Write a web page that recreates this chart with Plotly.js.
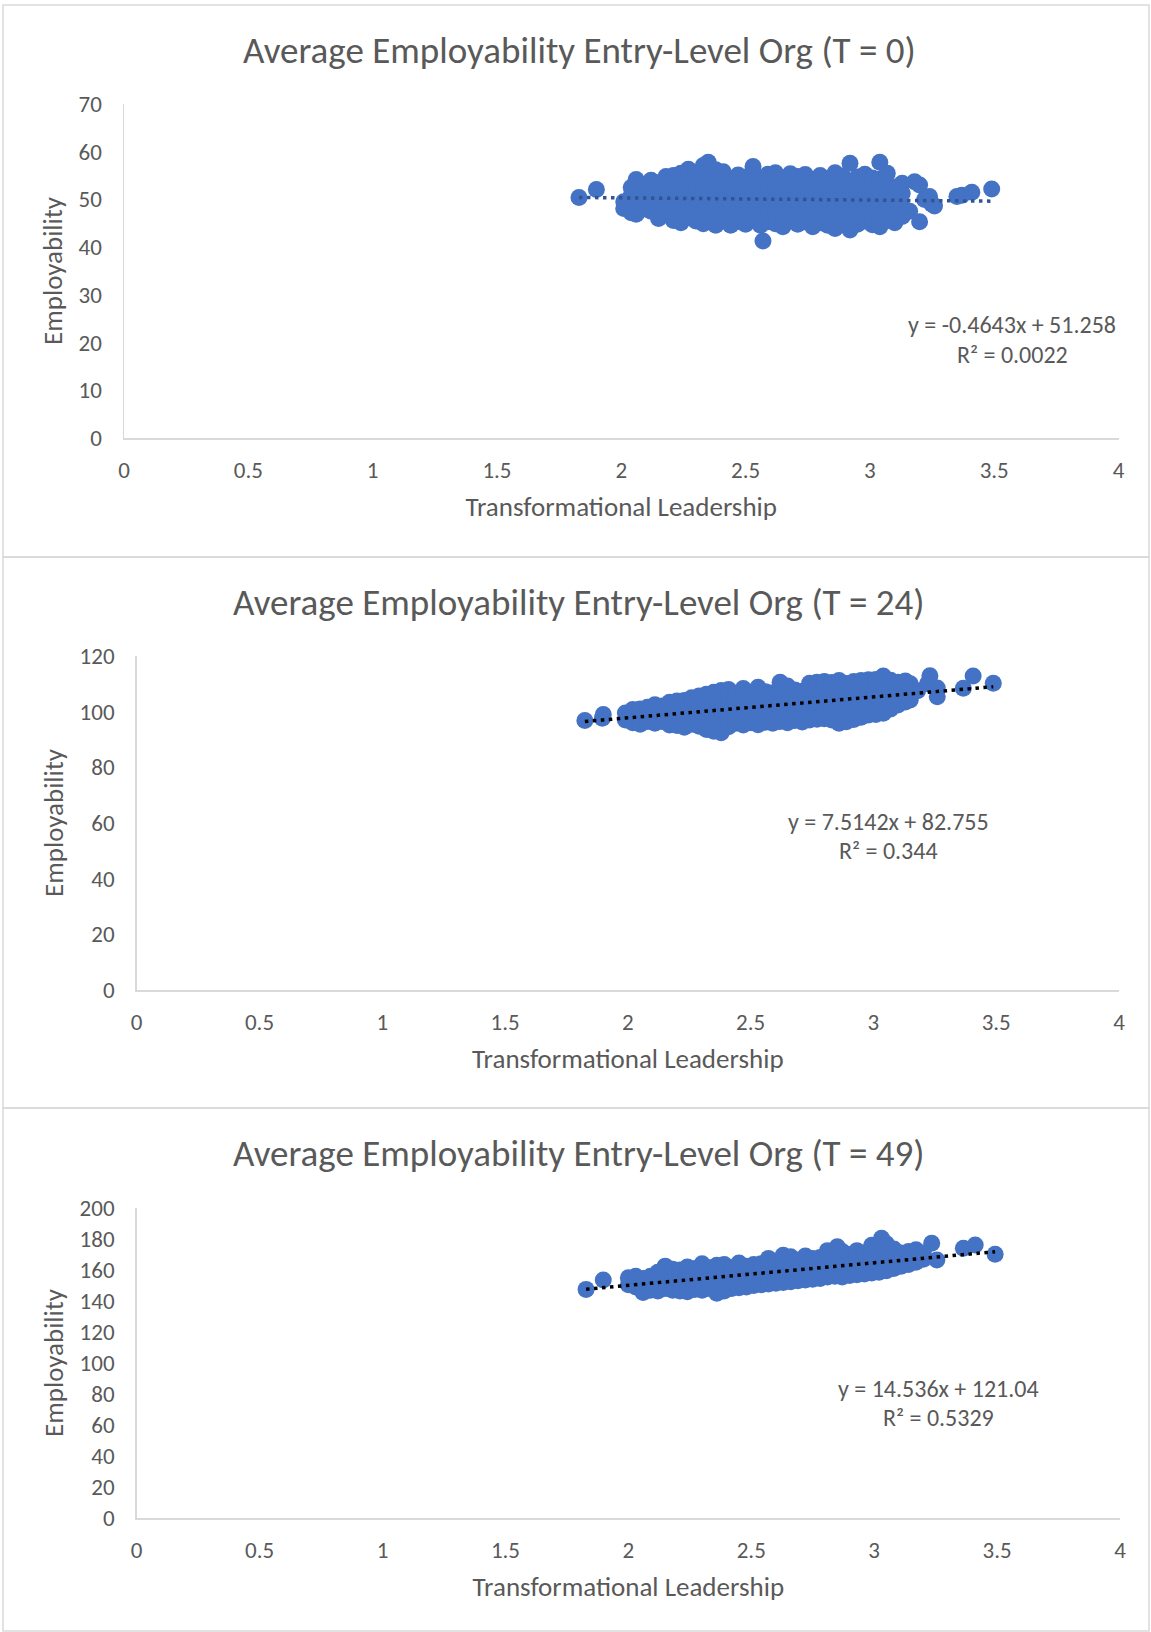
<!DOCTYPE html>
<html>
<head>
<meta charset="utf-8">
<script src="https://cdn.plot.ly/plotly-3.0.1.min.js"></script>
<style>html,body{margin:0;padding:0;background:#fff;}#chart{width:1151px;height:1632px;}</style>
</head>
<body>
<div id="chart"></div>
<script>
// ---------------- DATA ----------------
const chartTitles = [
  "Average Employability Entry-Level Org (T = 0)",
  "Average Employability Entry-Level Org (T = 24)",
  "Average Employability Entry-Level Org (T = 49)"
];
const xAxisTitle = "Transformational Leadership";
const yAxisTitle = "Employability";
const yRanges = [[0, 70], [0, 120], [0, 200]];
const yTickSteps = [10, 20, 20];
const slopes = [-0.4643, 7.5142, 14.536];
const intercepts = [51.258, 82.755, 121.04];
const equationTexts = ["y = -0.4643x + 51.258", "y = 7.5142x + 82.755", "y = 14.536x + 121.04"];
const r2Texts = ["R² = 0.0022", "R² = 0.344", "R² = 0.5329"];

// T = 0 : columns of [x, [y...]]
const colsT0 = [
  [1.83,[50.4]],[1.90,[52.1]],
  [2.01,[48.1,49.5]],[2.04,[47.2,50.8,52.5]],[2.06,[46.9,49.3,51.9,54.2]],[2.09,[48.0,50.5,53.1]],
  [2.12,[47.5,49.8,52.3,54.0]],[2.15,[46.0,48.6,51.2,53.5]],[2.18,[46.8,49.4,52.0,54.8]],
  [2.21,[45.6,48.2,50.7,53.3,55.0]],[2.24,[45.1,47.4,50.1,52.6,55.5]],[2.27,[46.3,48.9,51.4,54.1,56.3]],
  [2.30,[45.5,47.9,50.3,52.8,55.2]],[2.33,[44.9,47.3,49.7,52.1,54.6,57.1]],[2.35,[46.1,48.6,51.0,53.5,57.8]],
  [2.38,[44.6,47.0,49.4,51.9,54.3,56.2]],[2.41,[45.8,48.2,50.6,53.0,55.8]],[2.44,[44.6,47.1,49.5,51.8,54.4]],
  [2.47,[45.4,47.9,50.4,52.9,55.1]],[2.50,[44.8,47.3,49.8,52.2,54.7]],[2.53,[45.7,48.1,50.6,53.1,56.9]],
  [2.56,[44.6,47.0,49.4,51.9,54.5]],[2.57,[41.3]],[2.59,[45.3,47.8,50.3,52.7,55.3]],[2.62,[44.9,47.4,49.9,52.4,55.6]],
  [2.65,[44.3,46.8,49.2,51.7,54.2]],[2.68,[45.6,48.1,50.5,53.0,55.4]],[2.71,[44.8,47.2,49.7,52.2,54.8]],
  [2.74,[45.3,47.9,50.3,52.8,55.2]],[2.77,[44.3,46.7,49.2,51.6,54.1]],[2.80,[45.1,47.6,50.1,52.5,55.0]],
  [2.83,[44.6,47.0,49.5,52.0,54.4]],[2.86,[43.9,46.4,48.9,51.3,53.8,55.6]],[2.89,[45.0,47.5,50.0,52.4,54.9]],
  [2.92,[43.6,46.1,48.6,51.1,53.6,57.6]],[2.95,[44.8,47.3,49.8,52.3,54.7]],[2.98,[45.5,47.9,50.4,52.9,55.3]],
  [3.01,[44.7,47.1,49.6,52.0,54.5]],[3.04,[44.3,46.6,49.1,51.6,54.3,57.8]],[3.07,[45.6,48.0,50.5,53.0,55.5]],
  [3.10,[45.1,47.5,50.0,52.6]],[3.13,[46.4,48.5,51.3,53.4]],[3.16,[47.5]],[3.18,[53.7]],[3.20,[45.3,53.0]],
  [3.22,[50.0]],[3.24,[50.6]],[3.25,[49.0]],[3.26,[48.6]],[3.35,[50.6]],[3.37,[50.9]],[3.41,[51.5]],[3.49,[52.2]]
];

// T = 24
const colsT24 = [
  [1.825,[96.8]],[1.896,[97.6]],[1.90,[99.0]],
  [1.99,[97.0,99.5]],[2.02,[96.0,98.5,100.8]],[2.05,[95.5,98.0,101.0]],[2.08,[96.5,99.0,101.6]],
  [2.11,[95.8,98.2,100.7,102.5]],[2.14,[96.5,99.3,102.0]],[2.17,[95.2,97.9,100.5,103.4]],
  [2.20,[95.0,97.2,99.9,102.6,103.8]],[2.23,[94.4,96.8,99.4,102.0,104.0]],[2.26,[95.5,98.2,100.8,103.4,105.0]],
  [2.29,[94.8,97.4,100.1,102.7,105.6]],[2.32,[93.6,95.6,98.3,101.0,103.6,106.3]],[2.35,[93.0,96.2,99.0,101.7,104.4,107.0]],
  [2.38,[92.4,95.0,97.7,100.4,103.1,105.8,107.6]],[2.41,[94.6,97.3,100.0,102.8,105.5,108.0]],[2.44,[95.8,98.5,101.2,103.9,106.6]],
  [2.47,[95.2,98.0,100.7,103.5,106.2,108.3]],[2.50,[96.0,98.6,101.4,104.1,106.9]],[2.53,[95.3,98.1,100.8,103.6,106.3,108.8]],
  [2.56,[96.2,99.0,101.7,104.5,107.2]],[2.59,[95.8,98.5,101.3,104.0,106.8]],[2.62,[96.5,99.2,102.0,104.7,107.5,110.6]],
  [2.65,[96.0,98.8,101.5,104.3,107.0,109.2]],[2.68,[96.8,99.5,102.3,105.0,107.8]],[2.71,[96.3,99.1,101.8,104.6,107.3]],
  [2.74,[97.0,99.7,102.4,105.1,107.8,110.2]],[2.77,[97.3,100.0,102.7,105.4,108.1,110.6]],[2.80,[97.5,100.2,103.0,105.8,108.4,110.8]],
  [2.83,[97.0,99.8,102.6,105.3,108.0,110.5]],[2.86,[95.8,98.5,101.3,104.0,106.8,109.6,111.2]],[2.89,[96.4,99.2,101.9,104.7,107.4,110.1]],
  [2.92,[97.2,100.0,102.7,105.5,108.2,110.8]],[2.95,[98.0,100.7,103.5,106.2,109.0,111.2]],[2.98,[98.8,101.5,104.3,107.0,109.8,111.5]],
  [3.01,[99.0,101.8,104.6,107.3,110.1,111.6]],[3.04,[99.4,102.2,105.0,107.7,110.5,112.8]],[3.07,[101.0,103.7,106.5,109.2,111.3]],
  [3.10,[102.4,105.2,108.0,110.6]],[3.13,[103.5,106.3,109.0,111.0]],[3.15,[104.2,107.2,110.0]],[3.18,[107.5]],
  [3.22,[110.0]],[3.23,[112.9]],[3.26,[105.4,108.5]],[3.366,[108.4]],[3.406,[112.8]],[3.488,[110.2]]
];

// T = 49
const colsT49 = [
  [1.828,[147.5]],[1.898,[153.5]],
  [2.00,[150.5,155.0]],[2.03,[149.0,153.5,156.0]],[2.06,[145.5,150.0,154.5]],[2.09,[147.0,151.5,156.0]],
  [2.12,[146.5,151.0,155.5,158.5]],[2.15,[148.0,152.5,157.0,162.5]],[2.18,[147.0,151.5,156.0,160.5]],
  [2.21,[146.5,151.0,155.5,160.0]],[2.24,[146.0,150.5,155.0,159.5,162.0]],[2.27,[147.5,152.0,156.5,161.0]],
  [2.30,[147.0,151.5,156.0,160.5,164.0]],[2.33,[148.0,152.5,157.0,161.5]],[2.36,[145.0,149.5,154.0,158.5,163.0]],
  [2.39,[146.5,151.0,155.5,160.0,163.5]],[2.42,[148.0,152.5,157.0,161.5]],[2.45,[148.5,153.0,157.5,162.0,164.5]],
  [2.48,[149.0,153.5,158.0,162.5]],[2.51,[150.0,154.5,159.0,163.5]],[2.54,[150.5,155.0,159.5,164.0]],
  [2.57,[151.0,155.5,160.0,164.5,167.5]],[2.60,[151.5,156.0,160.5,165.0]],[2.63,[152.0,156.5,161.0,165.5,169.5]],
  [2.66,[152.5,157.0,161.5,166.0,168.5]],[2.69,[153.0,157.5,162.0,166.5]],[2.72,[153.5,158.0,162.5,167.0,169.0]],
  [2.75,[154.0,158.5,163.0,167.5]],[2.78,[154.5,159.0,163.5,168.0]],[2.81,[155.5,160.0,164.5,169.0,172.5]],
  [2.84,[156.0,160.5,165.0,169.5]],[2.85,[175.0]],[2.87,[155.5,160.0,164.5,169.0,172.0]],[2.90,[156.5,161.0,165.5,170.0]],
  [2.93,[157.0,161.5,166.0,170.5,172.5]],[2.96,[157.5,162.0,166.5,171.0]],[2.99,[158.0,162.5,167.0,171.5,176.0]],
  [3.02,[158.5,163.0,167.5,172.0,175.5]],[3.03,[180.5]],[3.05,[159.5,164.0,168.5,173.0,177.0]],[3.08,[161.0,165.5,170.0,173.5]],
  [3.11,[162.5,167.0,171.0]],[3.14,[163.5,168.0,172.0]],[3.17,[165.0,169.5,173.0]],[3.20,[167.0,171.0]],
  [3.234,[177.2]],[3.255,[166.5]],[3.363,[174.0]],[3.411,[176.1]],[3.492,[170.1]]
];

// ---------------- BUILD ----------------
const W = 1151, H = 1632;
const px = p => p / W;
const py = p => 1 - p / H;
const FONT = "Calibri, Carlito, Lato, sans-serif";
const GRAY = "#595959";
const BLUE = "#4472C4";
const trendColors = ["#2F5597", "#000000", "#000000"];

function flatten(cols) {
  const xs = [], ys = [];
  cols.forEach(c => c[1].forEach(v => { xs.push(c[0]); ys.push(v); }));
  return [xs, ys];
}
const allCols = [colsT0, colsT24, colsT49];

// subplot pixel geometry [left, right, top, bottom]
const plotBoxes = [[124, 1118.5, 104, 438], [136.7, 1119, 656, 990], [136.7, 1120, 1208, 1518]];
const chartBoxes = [[5, 557], [557, 1108], [1108, 1631]];
const titleY = [50, 602, 1153];
const eqPos = [[1012, 325, 354], [888, 821, 850], [938, 1388, 1417]];

const data = [];
const layout = {
  width: W, height: H,
  margin: {l: 0, r: 0, t: 0, b: 0},
  paper_bgcolor: "#ffffff", plot_bgcolor: "#ffffff",
  showlegend: false,
  font: {family: FONT, color: GRAY},
  annotations: [], shapes: []
};

for (let i = 0; i < 3; i++) {
  const [xs, ys] = flatten(allCols[i]);
  const sfx = i === 0 ? "" : String(i + 1);
  data.push({
    type: "scatter", mode: "markers", x: xs, y: ys,
    xaxis: "x" + sfx, yaxis: "y" + sfx,
    marker: {color: BLUE, size: 17, line: {width: 0}},
    cliponaxis: false, hoverinfo: "skip"
  });
  const xmin = Math.min(...xs), xmax = Math.max(...xs);
  data.push({
    type: "scatter", mode: "lines",
    x: [xmin, xmax],
    y: [slopes[i] * xmin + intercepts[i], slopes[i] * xmax + intercepts[i]],
    xaxis: "x" + sfx, yaxis: "y" + sfx,
    line: {color: trendColors[i], width: 3.5, dash: "3.5px,4.5px"},
    hoverinfo: "skip"
  });
  const b = plotBoxes[i];
  const axisCommon = {
    showgrid: false, zeroline: false, showline: true,
    linecolor: "#D9D9D9", linewidth: 1.5,
    ticks: "outside", tickcolor: "rgba(0,0,0,0)",
    tickfont: {family: FONT, size: 23, color: GRAY},
    fixedrange: true
  };
  layout["xaxis" + sfx] = Object.assign({}, axisCommon, {
    domain: [px(b[0]), px(b[1])], anchor: "y" + sfx,
    range: [0, 4], dtick: 0.5, tick0: 0, ticklen: 11,
    title: {text: xAxisTitle, font: {family: FONT, size: 27, color: GRAY}, standoff: 14}
  });
  layout["yaxis" + sfx] = Object.assign({}, axisCommon, {
    domain: [py(b[3]), py(b[2])], anchor: "x" + sfx,
    range: yRanges[i], dtick: yTickSteps[i], tick0: 0, ticklen: 16,
    title: {text: yAxisTitle, font: {family: FONT, size: 27, color: GRAY}, standoff: 8}
  });
  layout.annotations.push({
    xref: "paper", yref: "paper", x: px(579), y: py(titleY[i]),
    xanchor: "center", yanchor: "middle", showarrow: false,
    text: chartTitles[i], font: {family: FONT, size: 37, color: GRAY}
  });
  layout.annotations.push({
    xref: "paper", yref: "paper", x: px(eqPos[i][0]), y: py(eqPos[i][1]),
    xanchor: "center", yanchor: "middle", showarrow: false,
    text: equationTexts[i], font: {family: FONT, size: 24, color: GRAY}
  });
  layout.annotations.push({
    xref: "paper", yref: "paper", x: px(eqPos[i][0]), y: py(eqPos[i][2]),
    xanchor: "center", yanchor: "middle", showarrow: false,
    text: r2Texts[i], font: {family: FONT, size: 24, color: GRAY}
  });
  const cb = chartBoxes[i];
  layout.shapes.push({
    type: "rect", xref: "paper", yref: "paper",
    x0: px(3), x1: px(1149), y0: py(cb[1]), y1: py(cb[0]),
    line: {color: "#D9D9D9", width: 1.5}, fillcolor: "rgba(0,0,0,0)", layer: "below"
  });
}

Plotly.newPlot("chart", data, layout, {displayModeBar: false, staticPlot: true});
</script>
</body>
</html>
